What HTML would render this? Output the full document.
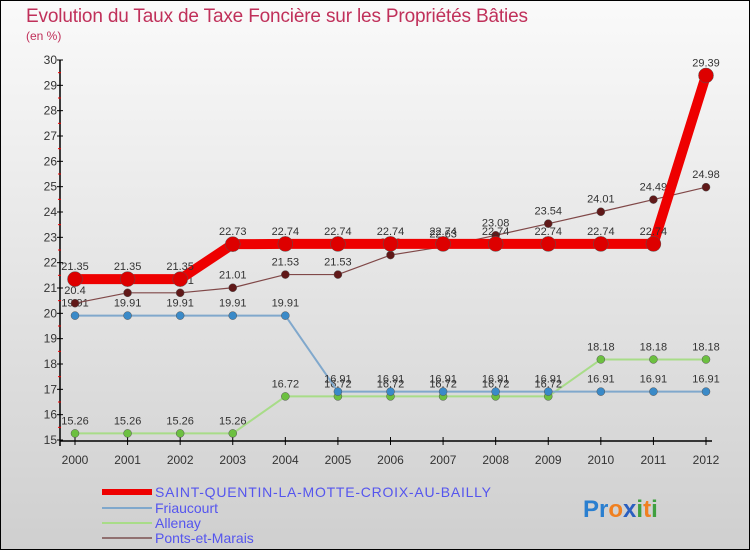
<!DOCTYPE html>
<html><head><meta charset="utf-8"><style>
body{margin:0}
#c{width:750px;height:550px;position:relative;overflow:hidden;font-family:"Liberation Sans",sans-serif}
</style></head><body>
<div id="c">
<svg id="s" width="750" height="550" xmlns="http://www.w3.org/2000/svg" font-family="Liberation Sans, sans-serif">
<defs><linearGradient id="bg" x1="0" y1="0" x2="0" y2="1"><stop offset="0" stop-color="#fafafa"/><stop offset="1" stop-color="#cfcfcf"/></linearGradient></defs>
<rect x="0.5" y="0.5" width="749" height="549" fill="url(#bg)" stroke="#000"/>
<text x="26" y="22" font-size="19" fill="#c0305a" textLength="502">Evolution du Taux de Taxe Foncière sur les Propriétés Bâties</text>
<text x="26" y="40" font-size="12" fill="#c0305a">(en %)</text>
<g id="axes"></g><g id="marks"></g>
<g>
<rect x="102" y="489" width="50" height="6" fill="#e00"/>
<text x="155" y="497" font-size="14" fill="#5555ee" textLength="336">SAINT-QUENTIN-LA-MOTTE-CROIX-AU-BAILLY</text>
<line x1="102" y1="508" x2="152" y2="508" stroke="#80a8cc" stroke-width="2"/>
<text x="155" y="513" font-size="14" fill="#5555ee">Friaucourt</text>
<line x1="102" y1="523" x2="152" y2="523" stroke="#a8dc88" stroke-width="2"/>
<text x="155" y="528" font-size="14" fill="#5555ee">Allenay</text>
<line x1="102" y1="538" x2="152" y2="538" stroke="#907070" stroke-width="2"/>
<text x="155" y="543" font-size="14" fill="#5555ee">Ponts-et-Marais</text>
</g>
<text x="583" y="517" font-size="24" font-weight="bold"><tspan fill="#2a7fd0">Pr</tspan><tspan fill="#f08020">o</tspan><tspan fill="#2a5fc0">x</tspan><tspan fill="#40a040">i</tspan><tspan fill="#f08020">t</tspan><tspan fill="#40a040">i</tspan></text>
</svg>
</div>
<script>
const years=[2000,2001,2002,2003,2004,2005,2006,2007,2008,2009,2010,2011,2012];
const stQuentin=[21.35,21.35,21.35,22.73,22.74,22.74,22.74,22.74,22.74,22.74,22.74,22.74,29.39];
const friaucourt=[19.91,19.91,19.91,19.91,19.91,16.91,16.91,16.91,16.91,16.91,16.91,16.91,16.91];
const allenay=[15.26,15.26,15.26,15.26,16.72,16.72,16.72,16.72,16.72,16.72,18.18,18.18,18.18];
const pontsEtMarais=[20.4,20.81,20.81,21.01,21.53,21.53,22.30,22.63,23.08,23.54,24.01,24.49,24.98];
const yTicks=[15,16,17,18,19,20,21,22,23,24,25,26,27,28,29,30];
const NS="http://www.w3.org/2000/svg";
const X=i=>75+i*(706-75)/(years.length-1);
const Y=v=>440-(v-15)*(380/15);
function mk(t,a,p){const e=document.createElementNS(NS,t);for(const k in a)e.setAttribute(k,a[k]);p.appendChild(e);return e;}
const ax=document.getElementById('axes'),mg=document.getElementById('marks');
const yl=mk('line',{x1:60,y1:Y(30),x2:60,y2:446,stroke:'#000','stroke-width':1.5},ax);


const xl=mk('line',{x1:60,y1:441,x2:712,y2:441,stroke:'#000','stroke-width':1.5},ax);


yTicks.forEach((v,i)=>{
  mk('line',{x1:57,y1:Y(v),x2:63,y2:Y(v),stroke:'#000'},ax);
  if(i<yTicks.length-1)mk('line',{x1:58,y1:Y(v+0.5),x2:61,y2:Y(v+0.5),stroke:'#e00'},ax);
  const t=mk('text',{x:57,y:Y(v)+4,'font-size':12,fill:'#333','text-anchor':'end'},ax);
  t.textContent=v;
  
  
});
years.forEach((y,i)=>{
  mk('line',{x1:X(i),y1:437,x2:X(i),y2:445,stroke:'#000'},ax);
  const t=mk('text',{x:X(i),y:464,'font-size':12,fill:'#333','text-anchor':'middle'},ax);
  t.textContent=y;
  
  
});
function series(data,name,color,dot,w,r){
  const g=mk('g',{},mg);
  
  
  const pl=mk('polyline',{points:data.map((v,i)=>X(i)+','+Y(v)).join(' '),fill:'none',stroke:color,'stroke-width':w,'stroke-linejoin':'round'},g);
  
  
  data.forEach((v,i)=>{
    const c=mk('circle',{cx:X(i),cy:Y(v),r:r,fill:dot,stroke:'#555','stroke-width':0.5},g);
    
    
    const t=mk('text',{x:X(i),y:Y(v)-9,'font-size':11,fill:'#333','text-anchor':'middle'},g);
    t.textContent=String(v);
    
    
  });
}
series(allenay,'allenay','#a8dc88','#6cc040',2,4);
series(friaucourt,'friaucourt','#80a8cc','#3a8ac8',2,4);
series(pontsEtMarais,'ponts-et-marais','#804848','#601818',1.2,4);
series(stQuentin,'saint-quentin','#ee0000','#dd0000',10,7.5);
</script>
</body></html>
